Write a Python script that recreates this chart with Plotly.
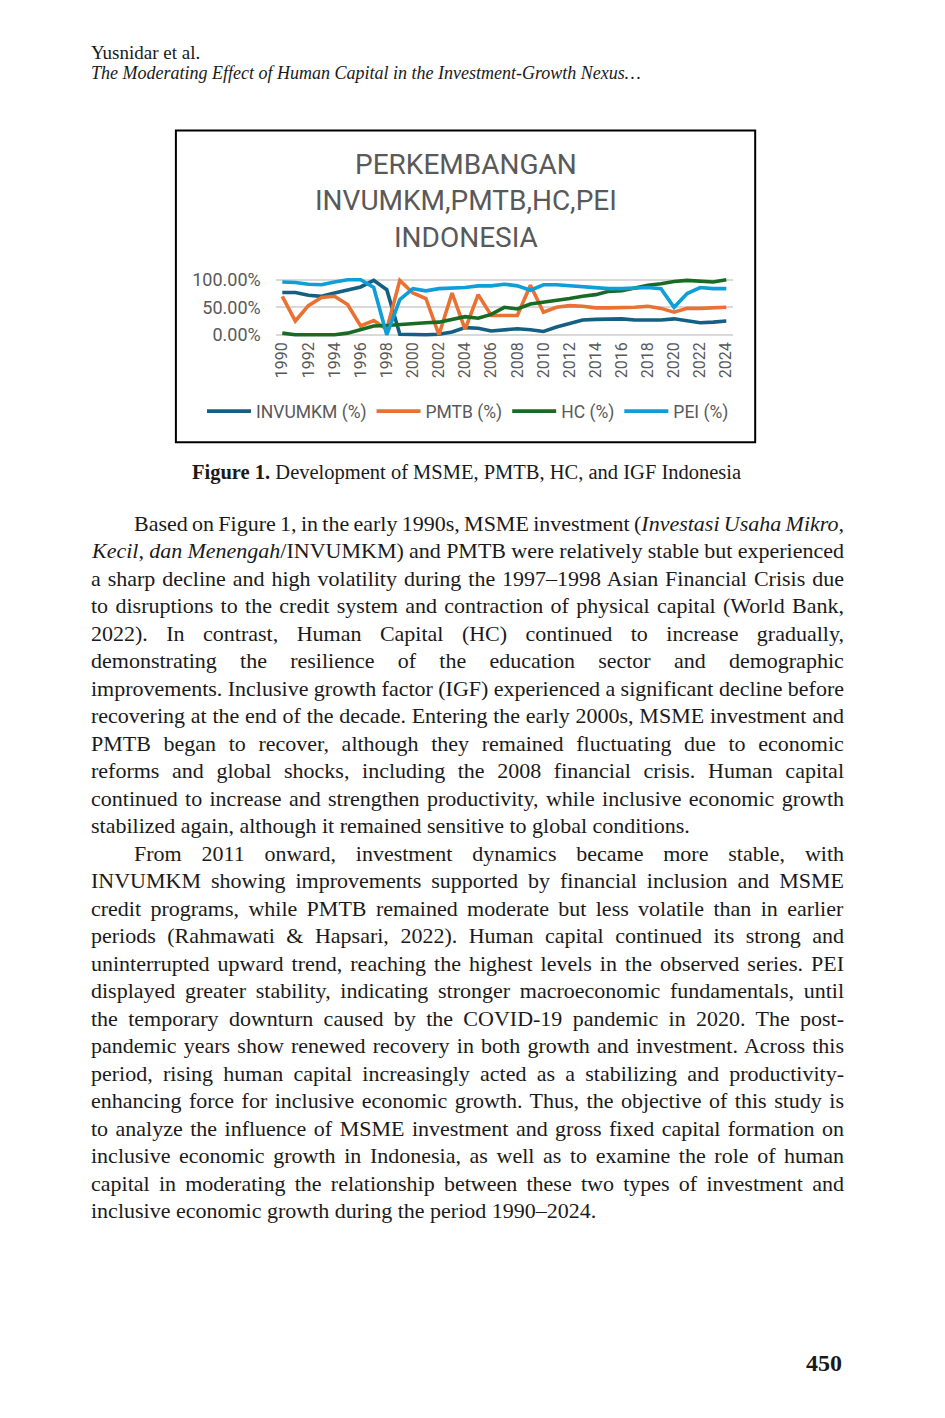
import json
import plotly.graph_objects as go

W, H = 945, 1418

# ---- chart data (in %)
YEARS = list(range(1990, 2025))
INVUMKM = [77, 77, 72, 70, 76, 81, 87, 99, 82, 1, 0, 0, 1, 5, 13, 12, 7, 9, 11, 9,
           6, 14, 21, 27, 28, 29, 29, 27, 27, 27, 29, 26, 22, 23, 25]
PMTB = [70, 25, 53, 68, 70, 55, 16, 26, 10, 99, 76, 66, 0, 76, 10, 73, 35, 35, 35, 90,
        41, 50, 53, 52, 49, 49, 49, 50, 52, 48, 41, 48, 48, 49, 50]
HC = [3, 0, 0, 0, 0, 3, 9, 16, 17, 19, 20, 22, 23, 28, 33, 30, 37, 50, 47, 56,
      59, 63, 66, 70, 73, 79, 80, 85, 90, 93, 97, 99, 98, 96, 100]
PEI = [96, 95, 92, 91, 96, 100, 100, 86, 0, 64, 84, 80, 84, 85, 86, 89, 89, 92, 89, 81,
       91, 91, 89, 88, 85, 84, 84, 85, 86, 84, 50, 75, 86, 84, 84]

SERIES_NAMES = ["INVUMKM (%)", "PMTB (%)", "HC (%)", "PEI (%)"]
SERIES_COLORS = ["#156082", "#E97132", "#196B24", "#0F9ED5"]

CHART_TITLE = "PERKEMBANGAN<br>INVUMKM,PMTB,HC,PEI<br>INDONESIA"
HEADER_AUTHOR = "Yusnidar et al."
HEADER_TITLE = "<i>The Moderating Effect of Human Capital in the Investment-Growth Nexus…</i>"
CAPTION = "<b>Figure 1.</b> Development of MSME, PMTB, HC, and IGF Indonesia"
PAGE_NO = "<b>450</b>"

# body text, one entry per printed line: (text, indented, justified)
BODY_LINES = [
    ("Based on Figure 1, in the early 1990s, MSME investment (<i>Investasi Usaha Mikro,</i>", True, True),
    ("<i>Kecil, dan Menengah</i>/INVUMKM) and PMTB were relatively stable but experienced", False, True),
    ("a sharp decline and high volatility during the 1997–1998 Asian Financial Crisis due", False, True),
    ("to disruptions to the credit system and contraction of physical capital (World Bank,", False, True),
    ("2022). In contrast, Human Capital (HC) continued to increase gradually,", False, True),
    ("demonstrating the resilience of the education sector and demographic", False, True),
    ("improvements. Inclusive growth factor (IGF) experienced a significant decline before", False, True),
    ("recovering at the end of the decade. Entering the early 2000s, MSME investment and", False, True),
    ("PMTB began to recover, although they remained fluctuating due to economic", False, True),
    ("reforms and global shocks, including the 2008 financial crisis. Human capital", False, True),
    ("continued to increase and strengthen productivity, while inclusive economic growth", False, True),
    ("stabilized again, although it remained sensitive to global conditions.", False, False),
    ("From 2011 onward, investment dynamics became more stable, with", True, True),
    ("INVUMKM showing improvements supported by financial inclusion and MSME", False, True),
    ("credit programs, while PMTB remained moderate but less volatile than in earlier", False, True),
    ("periods (Rahmawati &amp; Hapsari, 2022). Human capital continued its strong and", False, True),
    ("uninterrupted upward trend, reaching the highest levels in the observed series. PEI", False, True),
    ("displayed greater stability, indicating stronger macroeconomic fundamentals, until", False, True),
    ("the temporary downturn caused by the COVID-19 pandemic in 2020. The post-", False, True),
    ("pandemic years show renewed recovery in both growth and investment. Across this", False, True),
    ("period, rising human capital increasingly acted as a stabilizing and productivity-", False, True),
    ("enhancing force for inclusive economic growth. Thus, the objective of this study is", False, True),
    ("to analyze the influence of MSME investment and gross fixed capital formation on", False, True),
    ("inclusive economic growth in Indonesia, as well as to examine the role of human", False, True),
    ("capital in moderating the relationship between these two types of investment and", False, True),
    ("inclusive economic growth during the period 1990–2024.", False, False),
]

SANS = "Roboto, Arial, sans-serif"
SERIF = "Liberation Serif, Times New Roman, serif"
GREY = "#595959"
INK = "#1a1a1a"
PAD = 3  # annotation box padding before the first glyph

# the photographed page comes out slightly squeezed vertically; undo that
Y_SCALE, Y_SHIFT = 0.9908, 6.5


def px(x):
    return x / W


def py(y):
    return 1 - ((y - Y_SHIFT) / Y_SCALE) / H


fig = go.Figure()
for name, vals, color in zip(SERIES_NAMES, [INVUMKM, PMTB, HC, PEI], SERIES_COLORS):
    fig.add_trace(go.Scatter(
        x=YEARS, y=[v / 100 for v in vals], mode="lines", name=name,
        line=dict(color=color, width=3.6),
    ))

annotations = []
justify = {}

# body lines first so their indices are known for the justify script
LEFT, RIGHT, INDENT = 90, 843, 133
for i, (txt, indented, just) in enumerate(BODY_LINES):
    x0 = INDENT if indented else LEFT
    if just:
        justify[len(annotations)] = RIGHT - x0
    annotations.append(dict(
        text=txt, x=px(x0 - PAD), y=py(523 + 27.52 * i),
        xanchor="left", yanchor="middle", align="left",
        font=dict(family=SERIF, size=22, color=INK),
    ))

annotations += [
    dict(text=HEADER_AUTHOR, x=px(LEFT - PAD), y=py(52), xanchor="left", yanchor="middle",
         font=dict(family=SERIF, size=19, color=INK)),
    dict(text=HEADER_TITLE, x=px(LEFT - PAD), y=py(73), xanchor="left", yanchor="middle",
         font=dict(family=SERIF, size=18, color=INK)),
    dict(text=CHART_TITLE, x=px(466), y=py(201), xanchor="center", yanchor="middle",
         font=dict(family=SANS, size=28, color=GREY)),
    dict(text=CAPTION, x=px(466), y=py(472), xanchor="center", yanchor="middle",
         font=dict(family=SERIF, size=20.5, color=INK)),
    dict(text=PAGE_NO, x=px(RIGHT + PAD), y=py(1363), xanchor="right", yanchor="middle",
         font=dict(family=SERIF, size=24, color=INK)),
]
for a in annotations:
    a["xref"] = "paper"
    a["yref"] = "paper"
    a["showarrow"] = False

fig.update_layout(
    width=W, height=H,
    margin=dict(l=0, r=0, t=0, b=0),
    paper_bgcolor="white", plot_bgcolor="white",
    showlegend=True,
    legend=dict(orientation="h", x=px(468), xanchor="center", y=py(411), yanchor="middle",
                font=dict(family=SANS, size=17.5, color=GREY), itemwidth=44,
                bgcolor="rgba(0,0,0,0)"),
    xaxis=dict(domain=[px(274.5), px(734.5)], range=[1989.5, 2024.5],
               tickvals=YEARS[::2], tickangle=-90, showgrid=False, zeroline=False,
               showline=False, ticks="", tickfont=dict(family=SANS, size=16, color=GREY)),
    yaxis=dict(domain=[py(337.8), py(276.2)], range=[-0.06, 1.06],
               tickvals=[0, 0.5, 1], tickformat=".2%", showgrid=True,
               gridcolor="#d9d9d9", gridwidth=1.5, zeroline=False, showline=False,
               ticks="", ticklabelstandoff=14,
               tickfont=dict(family=SANS, size=18, color=GREY)),
    shapes=[dict(type="rect", xref="paper", yref="paper",
                 x0=px(174), x1=px(757), y0=py(442), y1=py(130),
                 line=dict(color="black", width=2))],
    annotations=annotations,
)

# drop the page margin, then stretch word spacing so body lines are justified
JUSTIFY_JS = """
document.body.style.margin = '0';
var gd = document.getElementById('{plot_id}');
var targets = %s;
Object.keys(targets).forEach(function(k) {
  try {
    var g = gd.querySelector('g.annotation[data-index="' + k + '"] text.annotation-text');
    if (!g) return;
    var w = g.getBBox().width;
    var txt = g.textContent;
    var n = (txt.match(/ /g) || []).length;
    if (n === 0) return;
    var ws = (targets[k] - w) / n;
    if (ws < -1.2) {
      var ls = (targets[k] - w + 1.2 * n) / txt.length;
      g.style.letterSpacing = ls + 'px';
      ws = -1.2;
    }
    g.style.wordSpacing = ws + 'px';
  } catch (e) {}
});
""" % json.dumps(justify)

fig.write_html("out.html", post_script=JUSTIFY_JS, config={"displayModeBar": False})
